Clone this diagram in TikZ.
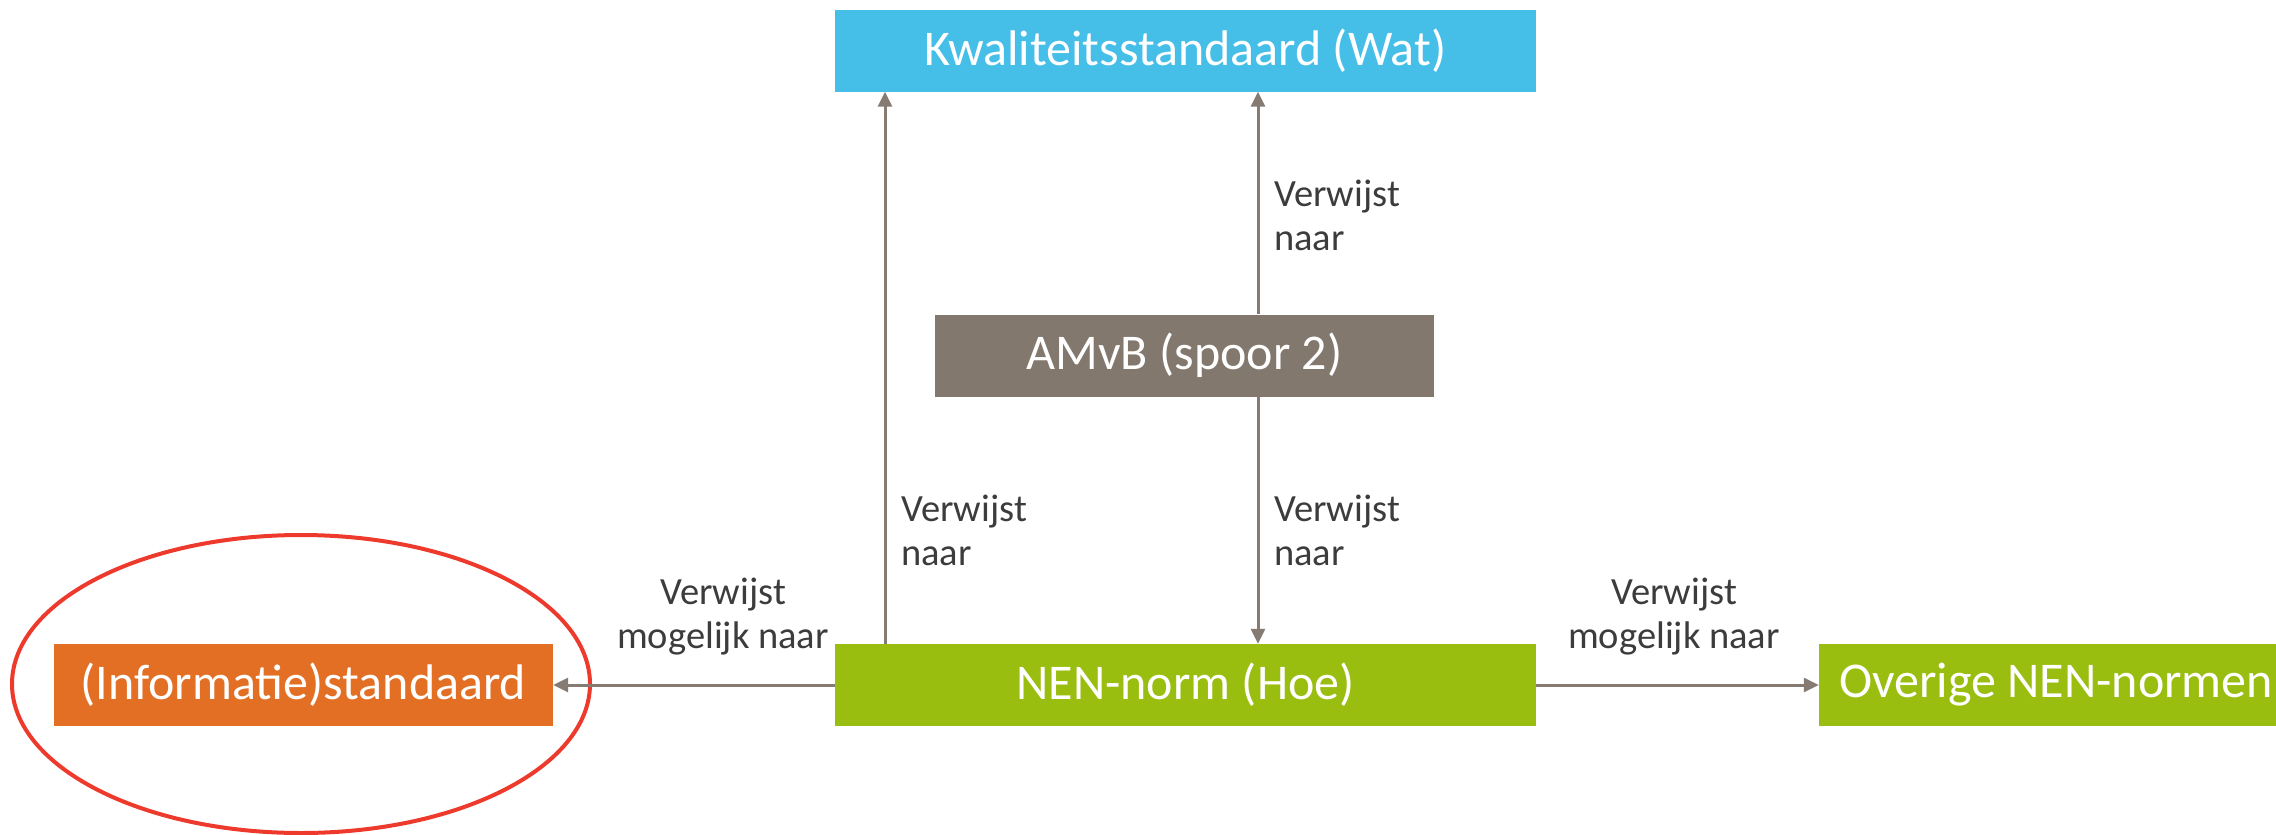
\documentclass[tikz,border=0pt]{standalone}
\usepackage{fontspec}
\setmainfont{Carlito}
\usetikzlibrary{arrows.meta}
\definecolor{kblue}{HTML}{45BEE8}
\definecolor{kgrey}{HTML}{82786E}
\definecolor{kgreen}{HTML}{9ABE0F}
\definecolor{korange}{HTML}{E26F24}
\definecolor{kred}{HTML}{EE3A2C}
\definecolor{karrow}{HTML}{857B72}
\definecolor{ktext}{HTML}{3C3C3C}
\tikzset{
  box/.style={rectangle, inner sep=0pt, text=white, minimum height=82pt,
    font=\fontsize{50}{56}\selectfont},
  conn/.style={draw=karrow, line width=3pt, -{Triangle[length=15pt,width=14pt]}},
  lbl/.style={text=ktext, font=\fontsize{38.5}{44}\selectfont, inner sep=0pt},
}
\begin{document}
\begin{tikzpicture}[x=1pt,y=-1pt]
\useasboundingbox (0,0) rectangle (2276,835);
\node[box, fill=kblue, minimum width=701pt] (kwal) at (1185.5,50.5) {Kwaliteitsstandaard (Wat)};
\node[box, fill=kgrey, minimum width=499pt] (amvb) at (1184.5,355.5) {AMvB (spoor 2)};
\node[box, fill=kgreen, minimum width=701pt] (nen) at (1185.5,685) {NEN-norm (Hoe)};
\node[box, fill=korange, minimum width=499pt] (info) at (303.5,685) {(Informatie)standaard};
\node[box, fill=kgreen, minimum width=474pt] (over) at (2056,685) {Overige NEN-normen};
\draw[kred, line width=4pt] (301,684) ellipse [x radius=289, y radius=149];
\coordinate (nenL) at (885,644);
\coordinate (kwalL) at (885,91);
\draw[conn] (nen.north -| nenL) -- (kwal.south -| kwalL);
\draw[conn] (amvb.north -| 1258,0) -- (kwal.south -| 1258,0);
\draw[conn] (amvb.south -| 1258,0) -- (nen.north -| 1258,0);
\draw[conn] (nen.west) -- (info.east);
\draw[conn] (nen.east) -- (over.west);
\node[lbl, align=left, anchor=west] (l1) at (1274,215) {Verwijst\\naar};
\node[lbl, align=left, anchor=west] (l2) at (1274,530) {Verwijst\\naar};
\node[lbl, align=left, anchor=west] (l3) at (901,530) {Verwijst\\naar};
\node[lbl, align=center] (l4) at (723,617) {Verwijst\\mogelijk naar};
\node[lbl, align=center] (l5) at (1674,617) {Verwijst\\mogelijk naar};
\end{tikzpicture}
\end{document}
